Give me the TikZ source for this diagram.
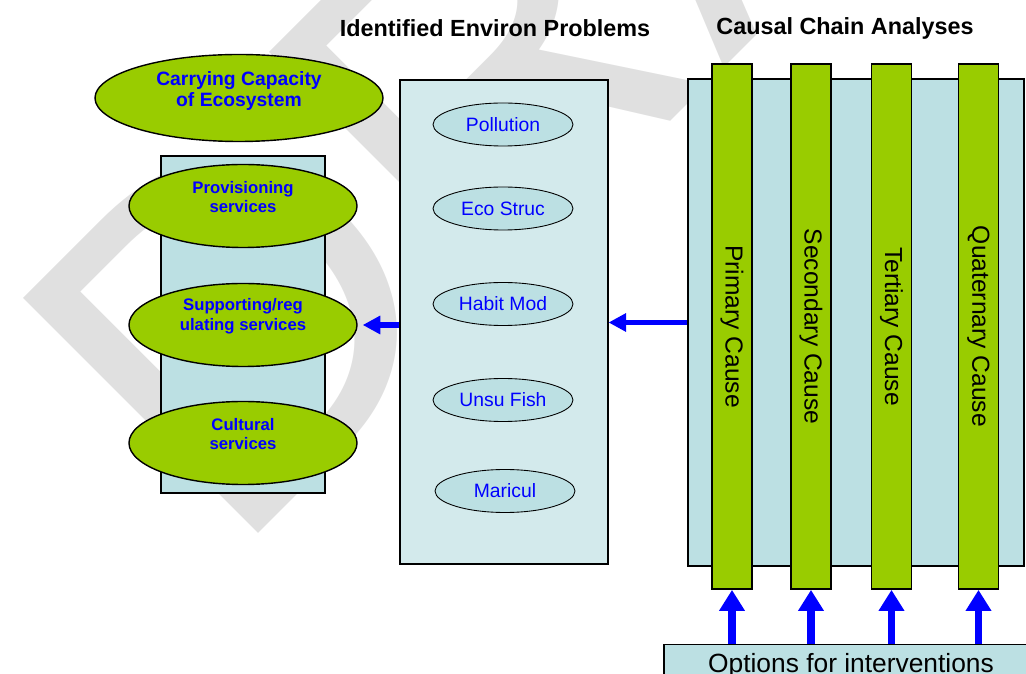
\documentclass[tikz,border=0pt]{standalone}
\usepackage{fontspec}
\setmainfont{Liberation Sans}
\usetikzlibrary{shapes.geometric,arrows.meta,positioning}

\definecolor{leafgreen}{HTML}{99CC00}
\definecolor{paleblue}{HTML}{BCE0E3}
\definecolor{mistblue}{HTML}{D3EAEC}
\definecolor{pureblue}{HTML}{0000FF}

\begin{document}
\begin{tikzpicture}[x=0.2mm, y=-0.2mm,
  watermark/.style={text=black!12, font=\fontsize{275}{280}\selectfont,
                    rotate=45, anchor=base west, inner sep=0pt},
  heading/.style={font=\bfseries\fontsize{13.3}{15}\selectfont},
  panel/.style={rectangle, draw, line width=0.6pt, inner sep=0pt},
  service/.style={ellipse, draw, line width=0.8pt, fill=leafgreen,
                  inner sep=0pt, minimum width=45.6mm, minimum height=16.6mm},
  servicetext/.style={text=pureblue, align=center,
                      font=\bfseries\fontsize{9.5}{11.3}\selectfont},
  problem/.style={ellipse, draw, line width=0.5pt, fill=paleblue, text=pureblue,
                  font=\fontsize{11}{13}\selectfont, inner sep=0pt,
                  minimum width=28mm, minimum height=8.6mm},
  cause/.style={rectangle, draw, line width=1pt, fill=leafgreen, inner sep=0pt,
                minimum width=8mm, minimum height=105mm},
  causetext/.style={rotate=-90, font=\fontsize{14}{16}\selectfont},
  push/.style={pureblue, line width=3.4pt, -{Triangle[length=10pt,width=10pt]}},
  lift/.style={pureblue, line width=4.5pt, -{Triangle[length=12pt,width=14pt]}}
]
\useasboundingbox (0,0) rectangle (1026,674);

% watermark in the background
\node[watermark] (draft) at (230,562) {DRAFT};

% headings
\node[heading] (problemstitle) at (495,28) {Identified Environ Problems};
\node[heading] (causestitle) at (845,28) {Causal Chain Analyses};

% ecosystem side
\node[ellipse, draw, line width=0.8pt, fill=leafgreen, inner sep=0pt,
      minimum width=57.6mm, minimum height=17.4mm] (capacity) at (239,98) {};
\node[servicetext, font=\bfseries\fontsize{11}{12.5}\selectfont]
      (capacitytext) at ([yshift=1.4mm]capacity) {Carrying Capacity\\of Ecosystem};

\node[panel, fill=paleblue, minimum width=32.8mm, minimum height=67.4mm]
      (services) at (243,324.5) {};
\node[service] (provisioning) at (243,206) {};
\node[servicetext] (provisioningtext) at ([yshift=1.8mm]provisioning)
      {Provisioning\\services};
\node[service] (supporting) at (243,325) {};
\node[servicetext] (supportingtext) at ([yshift=1.8mm]supporting)
      {Supporting/reg\\ulating services};
\node[service] (cultural) at (243,443) {};
\node[servicetext] (culturaltext) at ([yshift=1.8mm]cultural)
      {Cultural\\services};

% problems
\node[panel, fill=mistblue, minimum width=41.6mm, minimum height=96.8mm]
      (problems) at (504,322) {};
\node[problem] (pollution) at (503,124.5) {Pollution};
\node[problem] (ecostruc) at (503,208.5) {Eco Struc};
\node[problem] (habitmod) at (503,304) {Habit Mod};
\node[problem] (unsufish) at (503,400) {Unsu Fish};
\node[problem] (maricul) at (505,491) {Maricul};

% causal chain
\node[panel, fill=paleblue, minimum width=67.2mm, minimum height=97.4mm]
      (causes) at (856,322.5) {};
\node[cause] (primary) at (732,326.5) {};
\node[causetext] (primarytext) at (primary) {Primary Cause};
\node[cause] (secondary) at (811,326.5) {};
\node[causetext] (secondarytext) at (secondary) {Secondary Cause};
\node[cause] (tertiary) at (891.5,326.5) {};
\node[causetext] (tertiarytext) at (tertiary) {Tertiary Cause};
\node[cause] (quaternary) at (978.5,326.5) {};
\node[causetext] (quaternarytext) at (quaternary) {Quaternary Cause};

% interventions
\node[panel, fill=paleblue, minimum width=73.2mm, minimum height=9.4mm]
      (options) at (847,668) {};
\node[font=\fontsize{15}{17}\selectfont, anchor=base, inner sep=0pt]
      (optionstext) at (851,672) {Options for interventions};

% arrows
\draw[push] (causes.west) -- (causes.west -| problems.east);
\draw[push] (problems.west |- supporting.east) -- ([xshift=1mm]supporting.east);
\foreach \c in {primary,secondary,tertiary,quaternary}
  \draw[lift] (options.north -| \c.south) -- (\c.south);

\end{tikzpicture}
\end{document}
